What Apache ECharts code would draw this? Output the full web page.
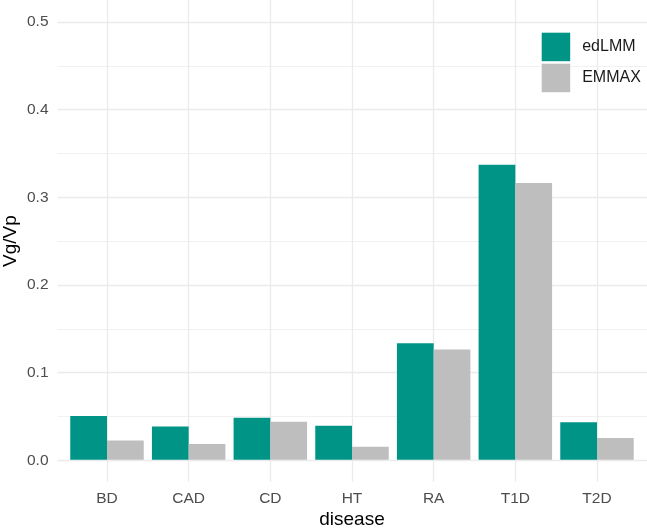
<!DOCTYPE html>
<html>
<head>
<meta charset="utf-8">
<script src="https://cdn.jsdelivr.net/npm/echarts@6/dist/echarts.min.js"></script>
<style>html,body{margin:0;padding:0;background:#fff;}#c{width:647px;height:532px;}</style>
</head>
<body>
<div id="c"></div>
<script>
const categories = ['BD', 'CAD', 'CD', 'HT', 'RA', 'T1D', 'T2D'];
const edLMM = [0.050, 0.038, 0.048, 0.039, 0.133, 0.337, 0.043];
const EMMAX = [0.022, 0.018, 0.0435, 0.015, 0.126, 0.316, 0.025];
const yTicks = [0, 0.1, 0.2, 0.3, 0.4, 0.5];

const font = 'Liberation Sans, Arial, Helvetica, sans-serif';
const chart = echarts.init(document.getElementById('c'), null, {renderer: 'canvas'});
chart.setOption({
  animation: false,
  backgroundColor: '#fff',
  grid: [
    {left: 57.5, right: 0, top: 22, bottom: 71.7, containLabel: false, outerBoundsMode: 'none'},
    {left: 107, right: 50, top: 0, bottom: 50.3, containLabel: false, outerBoundsMode: 'none'}
  ],
  legend: {
    orient: 'vertical', left: 541.7, top: 32.7, padding: 0,
    itemWidth: 28.5, itemHeight: 28.5, itemGap: 2.5,
    icon: 'rect',
    textStyle: {fontFamily: font, fontSize: 16, color: '#1a1a1a', padding: [0, 0, 0, 7]},
    data: ['edLMM', 'EMMAX']
  },
  xAxis: [
    {gridIndex: 0, type: 'value', show: false, min: 0, max: 1},
    {gridIndex: 1, type: 'category', data: categories, boundaryGap: false,
     axisLine: {show: false}, axisTick: {show: false},
     splitLine: {show: true, lineStyle: {color: '#ebebeb', width: 1.3}},
     axisLabel: {fontFamily: font, fontSize: 15.5, color: '#4d4d4d', margin: 9},
     name: 'disease', nameLocation: 'middle', nameGap: 29, nameMoveOverlap: false,
     nameTextStyle: {fontFamily: font, fontSize: 19, color: '#000'}}
  ],
  yAxis: [
    {gridIndex: 0, type: 'value', min: 0, max: 0.5, interval: 0.1,
     axisLine: {show: false}, axisTick: {show: false},
     splitLine: {show: true, lineStyle: {color: '#ebebeb', width: 1.3}},
     minorTick: {show: false, splitNumber: 2},
     minorSplitLine: {show: true, lineStyle: {color: '#ebebeb', width: 0.7}},
     axisLabel: {fontFamily: font, fontSize: 15.5, color: '#4d4d4d', margin: 9,
       formatter: v => yTicks.some(t => Math.abs(t - v) < 1e-9) ? v.toFixed(1) : ''},
     name: 'Vg/Vp', nameLocation: 'middle', nameGap: 37, nameRotate: 90, nameMoveOverlap: false,
     nameTextStyle: {fontFamily: font, fontSize: 19, color: '#000'}},
    {gridIndex: 1, type: 'value', show: false, min: -0.025, max: 0.525}
  ],
  series: [
    {name: 'edLMM', type: 'bar', xAxisIndex: 1, yAxisIndex: 1, data: edLMM,
     barWidth: '45%', barGap: '0%', clip: false, itemStyle: {color: '#009487'}},
    {name: 'EMMAX', type: 'bar', xAxisIndex: 1, yAxisIndex: 1, data: EMMAX,
     barWidth: '45%', barGap: '0%', clip: false, itemStyle: {color: '#bebebe'}}
  ]
});
</script>
</body>
</html>
